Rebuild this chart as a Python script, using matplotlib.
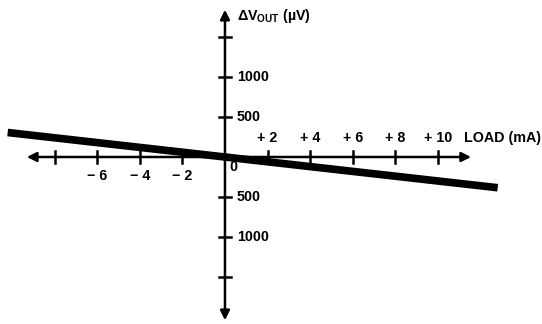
import matplotlib
matplotlib.use("Agg")
import matplotlib.pyplot as plt

# Data
load_ma = [-10.2, 12.8]
dvout_uv = [306, -384]
x_ticks_neg = [-8, -6, -4, -2]
x_ticks_pos = [2, 4, 6, 8, 10]
x_labels_neg = {-6: "\u2212 6", -4: "\u2212 4", -2: "\u2212 2"}
x_labels_pos = {2: "+ 2", 4: "+ 4", 6: "+ 6", 8: "+ 8", 10: "+ 10"}
y_ticks = [1500, 1000, 500, -500, -1000, -1500]
y_labels = {1000: "1000", 500: "500", -500: "500", -1000: "1000"}

plt.rcParams['font.family'] = ['Liberation Sans', 'DejaVu Sans']
plt.rcParams['mathtext.fontset'] = 'custom'
plt.rcParams['mathtext.bf'] = 'Liberation Sans:bold'
plt.rcParams['mathtext.rm'] = 'Liberation Sans:bold'
fig = plt.figure(figsize=(5.42, 3.24), dpi=100)
ax = fig.add_axes([0, 0, 1, 1])
ax.set_xlim(-10.56, 14.88)
ax.set_ylim(-2087, 1962)
ax.axis('off')

# axes with arrows
ax.annotate('', xy=(11.55, 0), xytext=(-9.3, 0),
            arrowprops=dict(arrowstyle='<|-|>', lw=1.8, color='black',
                            mutation_scale=14, shrinkA=0, shrinkB=0))
ax.annotate('', xy=(0, 1840), xytext=(0, -2040),
            arrowprops=dict(arrowstyle='<|-|>', lw=1.8, color='black',
                            mutation_scale=14, shrinkA=0, shrinkB=0))

# ticks
for t in x_ticks_neg + x_ticks_pos:
    ax.plot([t, t], [-70, 70], color='black', lw=1.8)
for t in y_ticks:
    ax.plot([-0.3, 0.3], [t, t], color='black', lw=1.8)

fs = 10.3
for t, s in x_labels_neg.items():
    ax.text(t, -150, s, ha='center', va='top', fontsize=fs, fontweight='bold')
for t, s in x_labels_pos.items():
    ax.text(t, 150, s, ha='center', va='bottom', fontsize=fs, fontweight='bold')
for t, s in y_labels.items():
    ax.text(0.55, t, s, ha='left', va='center', fontsize=fs, fontweight='bold')
ax.text(0.2, -40, "0", ha='left', va='top', fontsize=fs, fontweight='bold')
ax.text(11.2, 150, "LOAD (mA)", ha='left', va='bottom', fontsize=fs, fontweight='bold')
ax.text(0.55, 1760, "\u0394V$_{\\mathbf{OUT}}$ (\u00b5V)", ha='left', va='center',
        fontsize=fs, fontweight='bold')

# data line
ax.plot(load_ma, dvout_uv, color='black', lw=5.5, solid_capstyle='butt')

fig.savefig("out.png", dpi=100)
